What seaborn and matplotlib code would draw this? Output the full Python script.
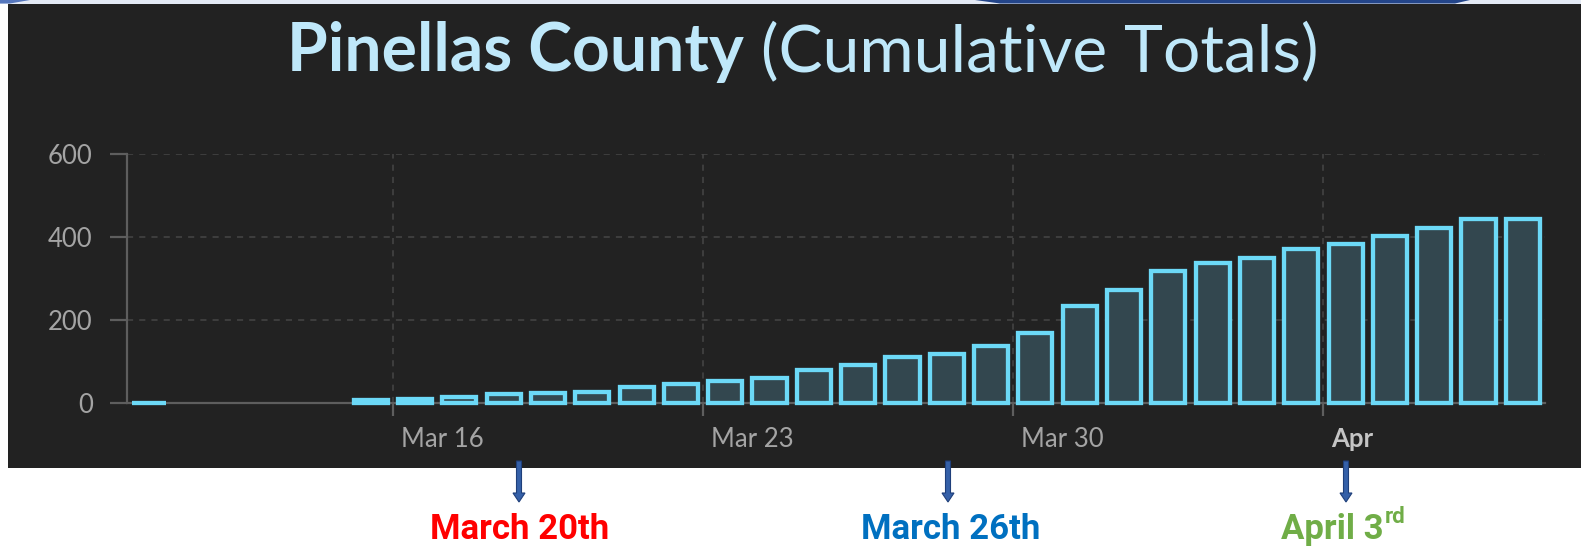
import numpy as np
import pandas as pd
import seaborn as sns
import matplotlib
matplotlib.use("Agg")
import matplotlib.pyplot as plt
from matplotlib.patches import Rectangle, Polygon, FancyArrow
from matplotlib.transforms import ScaledTranslation

# ---------------- data ----------------
dates = ["2020-03-10",
         "2020-03-15", "2020-03-16", "2020-03-17", "2020-03-18", "2020-03-19",
         "2020-03-20", "2020-03-21", "2020-03-22", "2020-03-23", "2020-03-24",
         "2020-03-25", "2020-03-26", "2020-03-27", "2020-03-28", "2020-03-29",
         "2020-03-30", "2020-03-31", "2020-04-01", "2020-04-02", "2020-04-03",
         "2020-04-04", "2020-04-05", "2020-04-06", "2020-04-07", "2020-04-08",
         "2020-04-09", "2020-04-10"]
cases = [1,
         9, 10, 15, 23, 24,
         28, 39, 47, 54, 61,
         80, 92, 112, 120, 137,
         169, 234, 274, 320, 339,
         351, 371, 383, 403, 422,
         443, 443]
tick_dates = ["2020-03-16", "2020-03-23", "2020-03-30", "2020-04-06"]
tick_labels = ["Mar 16", "Mar 23", "Mar 30", "Apr"]
y_ticks = [0, 200, 400, 600]
x_range = ["2020-03-10", "2020-04-11"]
title_bold = "Pinellas County"
title_rest = " (Cumulative Totals)"
notes = ["March 20th", "March 26th", "April 3"]
note_colors = ["#ff0000", "#0070c0", "#70ad47"]

origin = pd.Timestamp("2020-03-16")
df = pd.DataFrame({"date": pd.to_datetime(dates), "cases": cases})
df["pos"] = (df["date"] - origin).dt.days + 0.5
tick_pos = [(pd.Timestamp(d) - origin).days for d in tick_dates]
xlim = [(pd.Timestamp(d) - origin).days for d in x_range]

# ---------------- figure ----------------
W, H = 1581, 547
sns.set_theme(style="dark")
plt.rcParams["font.family"] = ["Lato", "DejaVu Sans"]
fig = plt.figure(figsize=(W / 100, H / 100), dpi=100, facecolor="white")

# background overlay in pixel coordinates
bg = fig.add_axes([0, 0, 1, 1], zorder=0)
bg.set_xlim(0, W)
bg.set_ylim(H, 0)
bg.axis("off")
bg.add_patch(Rectangle((8, 3.5), W - 8, 468 - 3.5, color="#222222", lw=0))
bg.add_patch(Rectangle((0, 0), W, 3.5, color="#e4eaf5", lw=0))
bg.add_patch(Polygon([(975, 0), (1470, 0), (1455, 3.5), (1000, 3.5)],
                     closed=True, color="#23458a", lw=0))
bg.add_patch(Polygon([(0, 0), (30, 0), (10, 3.5), (0, 3.5)],
                     closed=True, color="#5677bd", lw=0))

# chart axes
left, right = 127, 1545
top, bottom = 154.3, 403.3
ax = fig.add_axes([left / W, 1 - bottom / H, (right - left) / W, (bottom - top) / H],
                  zorder=2)
ax.set_facecolor("none")

face = "#33474f"
edge = "#6cd9f7"
sns.barplot(data=df, x="pos", y="cases", native_scale=True, width=0.77,
            color=face, saturation=1, edgecolor=edge, linewidth=3.1,
            errorbar=None, ax=ax, zorder=3)
for p in ax.patches:
    p.set_clip_on(False)

ax.set_xlim(*xlim)
ax.set_ylim(0, 600)
ax.set_xlabel("")
ax.set_ylabel("")

grid_col = "#464646"
ax.set_yticks(y_ticks)
ax.set_xticks(tick_pos)
ax.set_xticklabels(tick_labels)
ax.grid(True, which="major", axis="both", color=grid_col, lw=1.1,
        linestyle=(0, (4, 4)), zorder=1)
ax.set_axisbelow(True)

for s in ["top", "right"]:
    ax.spines[s].set_visible(False)
for s in ["left", "bottom"]:
    ax.spines[s].set_color("#5e5e5e")
    ax.spines[s].set_linewidth(1.6)
    ax.spines[s].set_zorder(2)

ax.tick_params(axis="y", length=12.2, width=1.6, color="#5e5e5e",
               pad=12.5, labelsize=18.5, labelcolor="#a4a4a4", left=True)
ax.tick_params(axis="x", length=9.4, width=1.6, color="#5e5e5e",
               pad=8, labelsize=18.5, labelcolor="#a4a4a4", bottom=True)
off = ScaledTranslation(8 / 100, 0, fig.dpi_scale_trans)
for lab in ax.get_xticklabels():
    lab.set_ha("left")
    lab.set_transform(lab.get_transform() + off)
ax.get_xticklabels()[-1].set_fontweight("bold")
ax.get_xticklabels()[-1].set_color("#c4c4c4")

# title
tcol = "#bfe8fa"
fig.canvas.draw()
r = fig.canvas.get_renderer()
t1 = bg.text(287, 71, title_bold, fontsize=47.5, fontweight="bold", color=tcol,
             ha="left", va="baseline")
w1 = t1.get_window_extent(r).width
t2 = bg.text(287 + w1, 71, title_rest, fontsize=47.5, fontweight="normal", color=tcol,
             ha="left", va="baseline")

# annotations below the panel
arrow_x = [519, 948, 1346]
text_x = [520, 951, 1332]
nfont = ["Liberation Sans Narrow", "Roboto", "DejaVu Sans"]
for i, (ax_, tx) in enumerate(zip(arrow_x, text_x)):
    bg.add_patch(FancyArrow(ax_, 461, 0, 41, width=5, head_width=12,
                            head_length=9, length_includes_head=True,
                            fc="#3560a8", ec="#1f3f7a", lw=0.8))
    t = bg.text(tx, 539, notes[i], fontsize=25, fontweight="bold",
                color=note_colors[i], ha="center", va="baseline", family=nfont)
    if i == 2:
        bb = t.get_window_extent(r)
        bg.text(tx + bb.width / 2 + 1, 523, "rd", fontsize=16, fontweight="bold",
                color=note_colors[i], ha="left", va="baseline", family=nfont)

fig.savefig("out.png", dpi=100, facecolor="white")
